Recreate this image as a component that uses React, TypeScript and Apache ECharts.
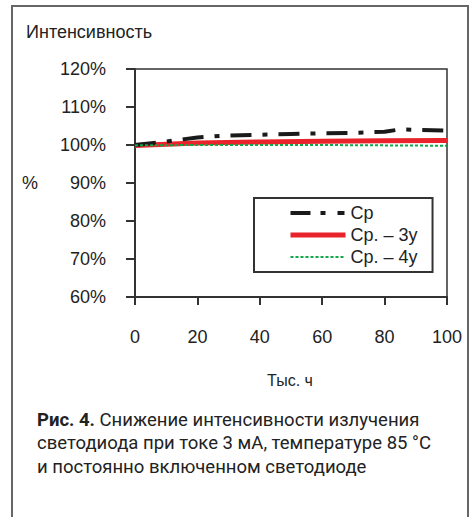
import React, { useEffect, useRef } from "react";
import * as echarts from "echarts";

const hoursCp = [0, 10, 20, 30, 40, 50, 60, 70, 80, 85, 90, 100];
const valuesCp = [100, 100.9, 102.0, 102.5, 102.7, 102.9, 103.1, 103.2, 103.5, 104.1, 104.0, 103.8];
const hours3y = [0, 20, 40, 60, 80, 100];
const values3y = [99.9, 100.5, 100.8, 101.0, 101.1, 101.2];
const hours4y = [0, 20, 40, 60, 80, 100];
const values4y = [99.9, 100.0, 100.0, 100.0, 99.9, 99.8];
const seriesNames = ["Ср", "Ср. – 3у", "Ср. – 4у"];
const yTitle = "Интенсивность";
const yUnit = "%";
const xTitle = "Тыс. ч";
const captionBold = "Рис. 4.";
const captionLines = [
  " Снижение интенсивности излучения",
  "светодиода при токе 3 мА, температуре 85 °С",
  "и постоянно включенном светодиоде",
];

const pair = (xs: number[], ys: number[]) => xs.map((x, i) => [x, ys[i]]);

const FONT = "'Liberation Sans', Arial, sans-serif";
const CAP_FONT = "Roboto, sans-serif";
const BLACK = "#1a1a1a";
const RED = "#e8232b";
const GREEN = "#12a84a";

export default function App() {
  const ref = useRef<HTMLDivElement>(null);
  useEffect(() => {
    if (!ref.current) return;
    const chart = echarts.init(ref.current, null, { renderer: "svg" });
    chart.setOption({
      animation: false,
      backgroundColor: "#ffffff",
      grid: {
        left: 135,
        right: 23,
        top: 69,
        bottom: 220,
        show: true,
        borderColor: "#333",
        borderWidth: 1.5,
      },
      legend: {
        orient: "vertical",
        left: 254,
        top: 198,
        itemWidth: 55,
        itemHeight: 14,
        itemGap: 0,
        padding: [4, 15, 4, 34],
        borderColor: "#333",
        borderWidth: 2,
        backgroundColor: "#fff",
        itemStyle: { opacity: 0 },
        textStyle: { fontFamily: FONT, fontSize: 18, color: "#222", lineHeight: 22 },
        data: [
          { name: seriesNames[0], lineStyle: { color: BLACK, width: 4, type: [20, 10, 5, 12, 7, 20] } },
          { name: seriesNames[1], lineStyle: { color: RED, width: 5 } },
          { name: seriesNames[2], lineStyle: { color: GREEN, width: 2, type: [3, 2] } },
        ],
      },
      xAxis: {
        type: "value",
        min: 0,
        max: 100,
        interval: 20,
        splitLine: { show: false },
        axisLine: { lineStyle: { color: "#333", width: 2 } },
        axisTick: { show: true, length: 8, lineStyle: { color: "#333", width: 2 } },
        axisLabel: { fontFamily: FONT, fontSize: 18, color: "#222", margin: 31 },
      },
      yAxis: {
        type: "value",
        min: 60,
        max: 120,
        interval: 10,
        splitLine: { show: false },
        axisLine: { show: true, lineStyle: { color: "#333", width: 2 } },
        axisTick: { show: true, length: 9, lineStyle: { color: "#333", width: 2 } },
        axisLabel: {
          fontFamily: FONT,
          fontSize: 18,
          color: "#222",
          margin: 29,
          formatter: "{value}%",
        },
      },
      series: [
        {
          name: seriesNames[0],
          type: "line",
          symbol: "none",
          data: pair(hoursCp, valuesCp),
          lineStyle: { color: BLACK, width: 4, type: [21, 11, 5, 11] },
          itemStyle: { color: BLACK },
          z: 3,
        },
        {
          name: seriesNames[1],
          type: "line",
          symbol: "none",
          data: pair(hours3y, values3y),
          lineStyle: { color: RED, width: 5 },
          itemStyle: { color: RED },
          z: 2,
        },
        {
          name: seriesNames[2],
          type: "line",
          symbol: "none",
          data: pair(hours4y, values4y),
          lineStyle: { color: GREEN, width: 2, type: [3, 2] },
          itemStyle: { color: GREEN },
          z: 4,
        },
      ],
      graphic: [
        {
          type: "rect",
          shape: { x: 12, y: 6, width: 456, height: 540 },
          style: { fill: "none", stroke: "#666", lineWidth: 2 },
          silent: true,
        },
        {
          type: "text",
          left: 26,
          top: 23,
          style: { text: yTitle, fontFamily: FONT, fontSize: 18, fill: "#222" },
        },
        {
          type: "text",
          left: 22,
          top: 174,
          style: { text: yUnit, fontFamily: FONT, fontSize: 18, fill: "#222" },
        },
        {
          type: "text",
          x: 290,
          y: 380,
          style: {
            text: xTitle,
            fontFamily: FONT,
            fontSize: 16,
            fill: "#222",
            align: "center",
            verticalAlign: "middle",
          },
        },
        {
          type: "text",
          left: 37,
          top: 408,
          style: {
            text:
              "{b|" + captionBold + "}" + captionLines[0] + "\n" + captionLines[1] + "\n" + captionLines[2],
            fontFamily: CAP_FONT,
            fontSize: 18.5,
            lineHeight: 23.5,
            fill: "#222",
            rich: {
              b: { fontFamily: CAP_FONT, fontSize: 18.5, fontWeight: "bold", fill: "#222", lineHeight: 23.5 },
            },
          },
        },
      ],
    });
    return () => chart.dispose();
  }, []);
  return (
    <div
      ref={ref}
      style={{ position: "absolute", left: 0, top: 0, width: 470, height: 517 }}
    />
  );
}
